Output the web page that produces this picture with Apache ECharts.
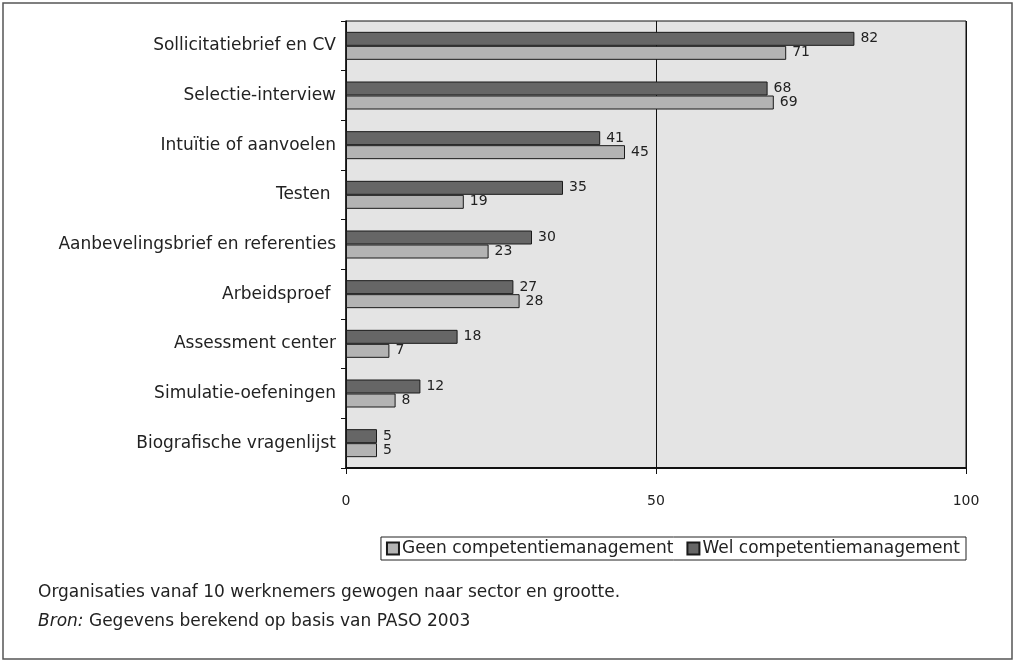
<!DOCTYPE html>
<html>
<head>
<meta charset="utf-8">
<style>
  html, body { margin: 0; padding: 0; background: #fff; }
  #chart { width: 1014px; height: 661px; }
</style>
<script src="https://cdn.jsdelivr.net/npm/echarts@6/dist/echarts.min.js"></script>
</head>
<body>
<div id="chart"></div>
<script>
// Selection methods, share of organisations (%)
const categories = [
  'Sollicitatiebrief en CV',
  'Selectie-interview',
  'Intuïtie of aanvoelen',
  'Testen ',
  'Aanbevelingsbrief en referenties',
  'Arbeidsproef ',
  'Assessment center',
  'Simulatie-oefeningen',
  'Biografische vragenlijst'
];
const welValues  = [82, 68, 41, 35, 30, 27, 18, 12, 5];
const geenValues = [71, 69, 45, 19, 23, 28, 7, 8, 5];
const seriesNames = ['Wel competentiemanagement', 'Geen competentiemanagement'];
const legendOrder = ['Geen competentiemanagement', 'Wel competentiemanagement'];
const noteLine = 'Organisaties vanaf 10 werknemers gewogen naar sector en grootte.';
const sourceLabel = 'Bron:';
const sourceText = ' Gegevens berekend op basis van PASO 2003';

const FONT = 'DejaVu Sans';
const chart = echarts.init(document.getElementById('chart'), null, { renderer: 'canvas' });

const barLabel = {
  show: true,
  position: 'right',
  distance: 6,
  fontFamily: FONT,
  fontSize: 14,
  color: '#222'
};

chart.setOption({
  animation: false,
  textStyle: { fontFamily: FONT },
  grid: {
    left: 346, top: 21, width: 620, height: 447,
    show: true,
    backgroundColor: '#e4e4e4',
    borderColor: '#111',
    borderWidth: 1
  },
  legend: {
    data: legendOrder,
    right: 48,
    top: 537,
    orient: 'horizontal',
    padding: [3, 6, 3, 5],
    itemGap: 13,
    itemWidth: 12,
    itemHeight: 12,
    icon: 'rect',
    borderColor: '#222',
    borderWidth: 1,
    textStyle: { fontFamily: FONT, fontSize: 17, color: '#222', padding: [0, 0, 0, -2] }
  },
  xAxis: {
    type: 'value',
    min: 0,
    max: 100,
    interval: 50,
    axisLine: { show: true, lineStyle: { color: '#111', width: 2 } },
    axisTick: { show: true, length: 6, lineStyle: { color: '#111' } },
    axisLabel: { fontFamily: FONT, fontSize: 14, color: '#222', margin: 26 },
    splitLine: { show: true, lineStyle: { color: '#111', width: 1 } }
  },
  yAxis: {
    type: 'category',
    data: categories,
    inverse: true,
    axisLine: { show: true, lineStyle: { color: '#111', width: 1.5 } },
    axisTick: { show: true, length: 5, alignWithLabel: false, lineStyle: { color: '#111' } },
    axisLabel: { fontFamily: FONT, fontSize: 17, color: '#222', margin: 10 }
  },
  series: [
    {
      name: seriesNames[0],
      type: 'bar',
      data: welValues,
      barWidth: 14,
      barGap: '0%',
      itemStyle: { color: '#666666', borderColor: '#1a1a1a', borderWidth: 1 },
      label: barLabel
    },
    {
      name: seriesNames[1],
      type: 'bar',
      data: geenValues,
      barWidth: 14,
      barGap: '0%',
      itemStyle: { color: '#b3b3b3', borderColor: '#1a1a1a', borderWidth: 1 },
      label: barLabel
    }
  ],
  graphic: [
    {
      type: 'rect',
      silent: true,
      shape: { x: 3, y: 3, width: 1009, height: 656 },
      style: { fill: 'none', stroke: '#555', lineWidth: 1.5 }
    },
    {
      type: 'text',
      left: 38,
      top: 584,
      style: { text: noteLine, fontFamily: FONT, fontSize: 17, fill: '#222' }
    },
    {
      type: 'text',
      left: 38,
      top: 613,
      style: {
        text: '{i|' + sourceLabel + '}' + sourceText,
        fontFamily: FONT, fontSize: 17, fill: '#222',
        rich: { i: { fontFamily: FONT, fontSize: 17, fontStyle: 'italic', fill: '#222' } }
      }
    }
  ]
});
</script>
</body>
</html>
